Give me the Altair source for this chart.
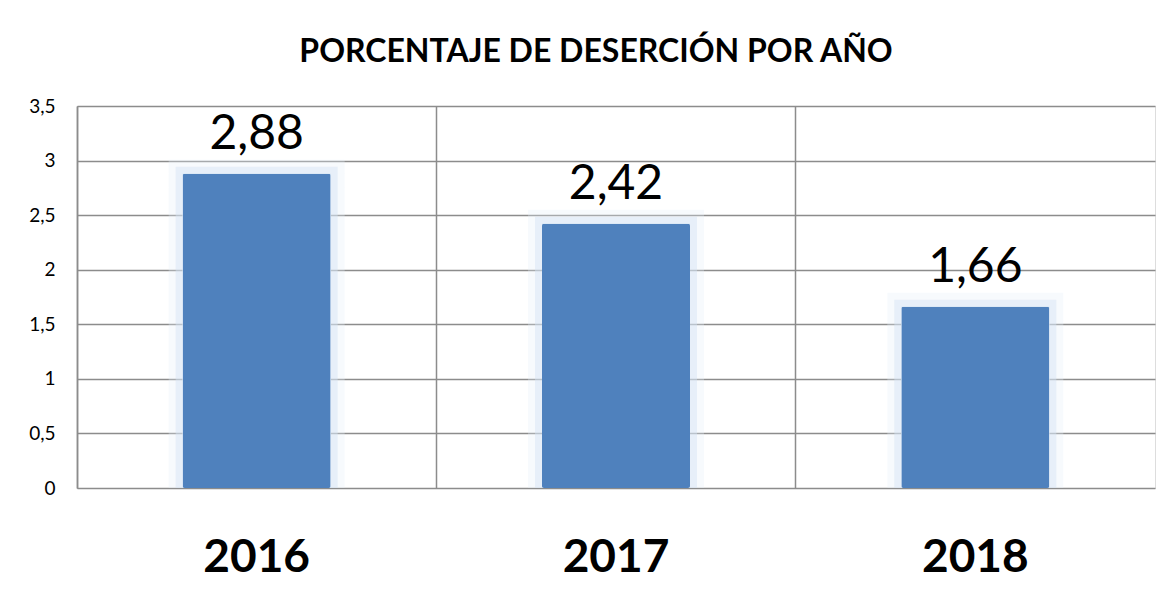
import altair as alt
import pandas as pd

years = ["2016", "2017", "2018"]
values = [2.88, 2.42, 1.66]
y_ticks = [0, 0.5, 1, 1.5, 2, 2.5, 3, 3.5]
title_text = "PORCENTAJE DE DESERCIÓN POR AÑO"

df = pd.DataFrame({"year": years, "value": values})

FONT = "Lato"
BAR = "#4F81BD"
GRID = "#8C8C8C"

x_enc = alt.X(
    "year:N",
    sort=years,
    scale=alt.Scale(paddingInner=0, paddingOuter=0),
    axis=alt.Axis(
        title=None,
        labelAngle=0,
        labelFont=FONT,
        labelFontSize=46,
        labelFontWeight="bold",
        labelColor="#000000",
        labelPadding=69,
        labelBaseline="middle",
        ticks=False,
        domain=False,
        grid=True,
        bandPosition=0,
        gridColor=GRID,
        gridWidth=1.5,
    ),
)
y_enc = alt.Y(
    "value:Q",
    scale=alt.Scale(domain=[0, 3.5], nice=False),
    axis=alt.Axis(
        title=None,
        values=y_ticks,
        labelExpr="replace(format(datum.value, '.1~f'), '.', ',')",
        labelFont=FONT,
        labelFontSize=19,
        labelColor="#000000",
        labelPadding=22,
        ticks=False,
        domain=True,
        domainColor=GRID,
        domainWidth=1.5,
        gridColor=GRID,
        gridWidth=1.5,
        minExtent=69,
        maxExtent=69,
    ),
)

base = alt.Chart(df).encode(x=x_enc, y=y_enc)

glow1 = base.mark_bar(
    size=148, color="#E4EDF8", stroke="#E4EDF8", strokeWidth=28, strokeOpacity=0.3, clip=True
)
glow2 = base.mark_bar(
    size=148, color="#D3E2F3", stroke="#D3E2F3", strokeWidth=14, strokeOpacity=0.45, clip=True
)
bars = base.mark_bar(size=148, color=BAR, cornerRadius=2)
labels = base.transform_calculate(
    lab="replace(format(datum.value, '.2f'), '.', ',')"
).mark_text(
    font=FONT, fontSize=48, color="#000000", baseline="alphabetic", dy=-25
).encode(text="lab:N")

chart = (
    alt.layer(glow1, glow2, bars, labels)
    .properties(
        width=1078,
        height=382,
        padding={"left": 0, "top": 28, "right": 5, "bottom": 5},
        title=alt.TitleParams(
            title_text,
            font=FONT,
            fontSize=32,
            fontWeight="bold",
            color="#000000",
            anchor="middle",
            dx=-20,
            offset=28,
        ),
    )
    .configure_view(stroke=GRID, strokeWidth=1.5)
    .configure(background="#FFFFFF")
)

chart.save("out.html", embed_options={"renderer": "svg", "actions": False})
